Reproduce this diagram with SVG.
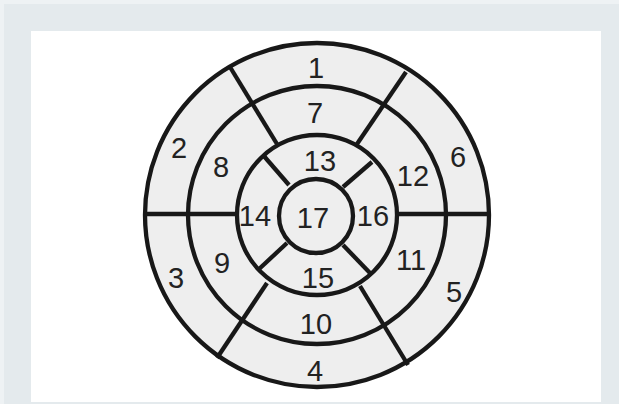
<svg xmlns="http://www.w3.org/2000/svg" width="619" height="404" viewBox="0 0 619 404">
<style>
.ring{fill:none;stroke:#181818;stroke-width:4.3}
.seg{stroke:#181818;stroke-width:4.3;stroke-linecap:butt}
.lbl{font-family:"Liberation Sans",Arial,sans-serif;font-size:29px;fill:#222;text-anchor:middle}
</style>
<rect x="0" y="0" width="619" height="404" fill="#eef2f4"/>
<rect x="4" y="4" width="615" height="400" fill="#e4eaed"/>
<rect x="31" y="31" width="570" height="371" fill="#ffffff"/>
<g id="bullseye">
<circle cx="317" cy="215" r="172" fill="#eeeeee"/>
</g>
<g id="connectors">
<circle class="ring" cx="317" cy="215" r="172"/>
<circle class="ring" cx="317" cy="215" r="129"/>
<circle class="ring" cx="317" cy="215" r="80"/>
<circle class="ring" cx="316" cy="216" r="37"/>
<line class="seg" x1="145" y1="214" x2="237" y2="214"/>
<line class="seg" x1="397" y1="214" x2="489" y2="214"/>
<line class="seg" x1="277" y1="144" x2="230" y2="67"/>
<line class="seg" x1="357" y1="144" x2="406" y2="72"/>
<line class="seg" x1="267" y1="283" x2="217" y2="358"/>
<line class="seg" x1="360" y1="286" x2="408" y2="365"/>
<line class="seg" x1="263" y1="155" x2="289" y2="185"/>
<line class="seg" x1="372" y1="162" x2="343" y2="187"/>
<line class="seg" x1="258" y1="270" x2="287" y2="243"/>
<line class="seg" x1="343" y1="245" x2="370" y2="273"/>
</g>
<g id="seg1"><text class="lbl" x="316" y="78">1</text></g>
<g id="seg2"><text class="lbl" x="179" y="158">2</text></g>
<g id="seg3"><text class="lbl" x="176" y="288">3</text></g>
<g id="seg4"><text class="lbl" x="315" y="381">4</text></g>
<g id="seg5"><text class="lbl" x="454" y="302">5</text></g>
<g id="seg6"><text class="lbl" x="458" y="167">6</text></g>
<g id="seg7"><text class="lbl" x="315" y="123">7</text></g>
<g id="seg8"><text class="lbl" x="221" y="177">8</text></g>
<g id="seg9"><text class="lbl" x="222" y="273">9</text></g>
<g id="seg10"><text class="lbl" x="316" y="334">10</text></g>
<g id="seg11"><text class="lbl" x="411" y="270">11</text></g>
<g id="seg12"><text class="lbl" x="413" y="186">12</text></g>
<g id="seg13"><text class="lbl" x="320" y="171">13</text></g>
<g id="seg14"><text class="lbl" x="255" y="226">14</text></g>
<g id="seg15"><text class="lbl" x="318" y="288">15</text></g>
<g id="seg16"><text class="lbl" x="373" y="226">16</text></g>
<g id="seg17"><text class="lbl" x="313" y="228">17</text></g>
</svg>
